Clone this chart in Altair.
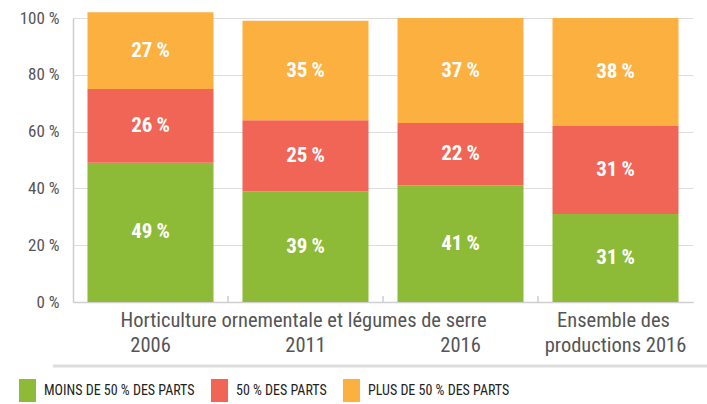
import altair as alt
import pandas as pd

categories = ["2006", "2011", "2016", "Ensemble"]
series = ["MOINS DE 50 % DES PARTS", "50 % DES PARTS", "PLUS DE 50 % DES PARTS"]
moins = [49, 39, 41, 31]
cinquante = [26, 25, 22, 31]
plus = [27, 35, 37, 38]
colors = ["#8dbb37", "#f06556", "#fbb040"]

row1_cats = ["2011", "Ensemble"]
row1_text = ["Horticulture ornementale et légumes de serre", "Ensemble des"]
row2_cats = ["2006", "2011", "2016", "Ensemble"]
row2_text = ["2006", "2011", "2016", "productions 2016"]
tick_cats = ["2011", "2016", "Ensemble"]

rows = []
for i, c in enumerate(categories):
    for k, (s, vals) in enumerate(zip(series, [moins, cinquante, plus])):
        rows.append({"cat": c, "serie": s, "rank": k, "value": vals[i]})
df = pd.DataFrame(rows)

W, H = 620, 284
FONT = "Liberation Sans Narrow, Roboto Condensed, Roboto, sans-serif"

xscale = alt.Scale(domain=categories, paddingInner=0.187, paddingOuter=0.0935)
x = alt.X("cat:N", sort=categories, scale=xscale,
          axis=alt.Axis(labels=False, ticks=False, title=None, domainColor="#cfcfcf",
                        domainWidth=1.5, grid=False))

yaxis = alt.Axis(values=[0, 20, 40, 60, 80, 100], labelExpr="datum.value + ' %'",
                 labelFont=FONT, labelFontSize=17, labelColor="#555555", labelPadding=14,
                 ticks=False, domainColor="#cfcfcf", domainWidth=1.5, gridColor="#dddddd",
                 title=None)

base = alt.Chart(df).transform_stack(
    stack="value", groupby=["cat"], sort=[alt.SortField("rank")], as_=["y0", "y1"]
).transform_calculate(
    mid="(datum.y0 + datum.y1) / 2", label="datum.value + '\u2009%'"
)

bars = base.mark_bar().encode(
    x=x,
    y=alt.Y("y0:Q", scale=alt.Scale(domain=[0, 100]), axis=yaxis),
    y2="y1:Q",
    color=alt.Color("serie:N", sort=series,
                    scale=alt.Scale(domain=series, range=colors),
                    legend=alt.Legend(orient="none", legendX=-57, legendY=361,
                                      direction="horizontal", title=None, padding=0,
                                      symbolType="M-0.74,-1H0.74V1H-0.74Z",
                                      symbolSize=529, symbolStrokeWidth=0, symbolOpacity=1,
                                      labelFont=FONT, labelFontSize=14, labelColor="#222222",
                                      labelOffset=5, columnPadding=13)),
    order=alt.Order("rank:Q"),
)

labels = base.mark_text(color="white", font=FONT, fontSize=21, fontWeight="bold",
                        baseline="middle").encode(
    x=alt.X("cat:N", sort=categories, scale=xscale),
    y=alt.Y("mid:Q"),
    text="label:N",
)

ticks_df = pd.DataFrame({"cat": tick_cats})
ticks = alt.Chart(ticks_df).mark_rule(color="#cfcfcf", strokeWidth=1.5, xOffset=-14.5).encode(
    x=alt.X("cat:N", sort=categories, scale=xscale, bandPosition=0),
    y=alt.value(H - 6), y2=alt.value(H),
)

r1 = alt.Chart(pd.DataFrame({"cat": row1_cats, "t": row1_text})).mark_text(
    font=FONT, fontSize=20.5, color="#555555", baseline="alphabetic", align="center", dx=-2
).encode(x=alt.X("cat:N", sort=categories, scale=xscale), y=alt.value(309), text="t:N")

r2 = alt.Chart(pd.DataFrame({"cat": row2_cats, "t": row2_text})).mark_text(
    font=FONT, fontSize=20.5, color="#555555", baseline="alphabetic", align="center"
).encode(x=alt.X("cat:N", sort=categories, scale=xscale), y=alt.value(334), text="t:N")

sep = alt.Chart(pd.DataFrame({"a": [0]})).mark_rule(color="#dddddd", strokeWidth=3).encode(
    x=alt.value(-20), x2=alt.value(634), y=alt.value(348)
)

chart = alt.layer(bars, labels, ticks, r1, r2, sep).properties(
    width=W, height=H,
    padding={"left": 73, "top": 18, "right": 14, "bottom": 102},
    autosize=alt.AutoSizeParams(type="none"),
    background="white",
).configure_view(stroke=None)

chart.save("out.html", embed_options={"renderer": "svg", "actions": False})
